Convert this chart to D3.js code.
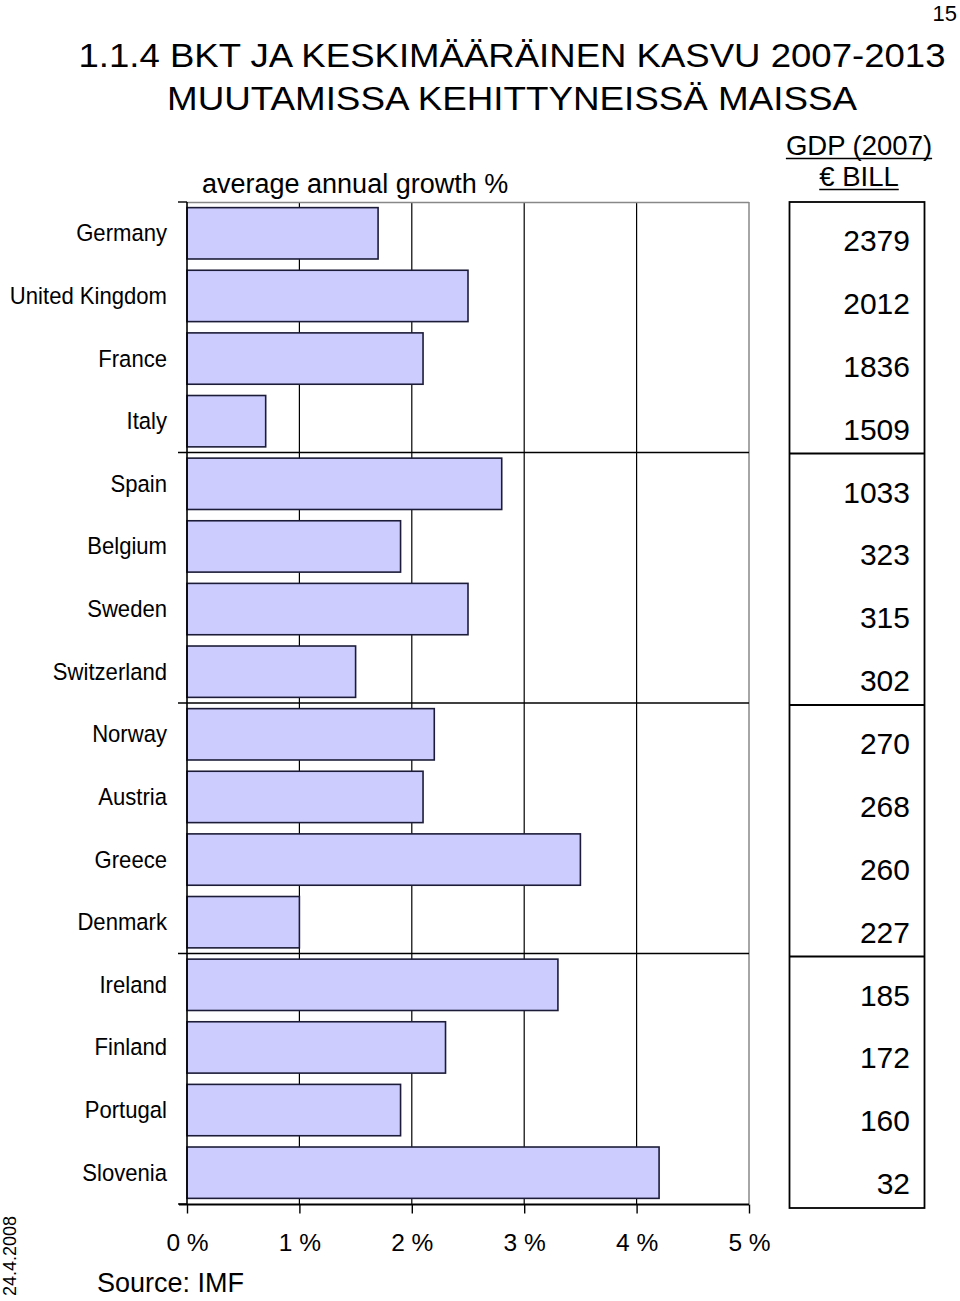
<!DOCTYPE html>
<html><head><meta charset="utf-8">
<script src="https://cdn.jsdelivr.net/npm/d3@7"></script>
<style>
body{margin:0;background:#fff}
svg{display:block}
text{font-family:"Liberation Sans",Arial,Helvetica,sans-serif;fill:#000}
</style>
</head><body><svg id="c" width="960" height="1301"></svg>
<script>
const countries = ["Germany","United Kingdom","France","Italy","Spain","Belgium","Sweden","Switzerland","Norway","Austria","Greece","Denmark","Ireland","Finland","Portugal","Slovenia"];
const growth = [1.7,2.5,2.1,0.7,2.8,1.9,2.5,1.5,2.2,2.1,3.5,1.0,3.3,2.3,1.9,4.2];
const gdp2007 = [2379,2012,1836,1509,1033,323,315,302,270,268,260,227,185,172,160,32];
const xTicks = [0,1,2,3,4,5];
const groupBounds = [0,4,8,12,16];
const titleLines = ["1.1.4 BKT JA KESKIMÄÄRÄINEN KASVU 2007-2013","MUUTAMISSA KEHITTYNEISSÄ MAISSA"];
const axisTitle = "average annual growth %";
const gdpHeader = ["GDP (2007)","€ BILL"];
const sourceText = "Source: IMF";
const dateText = "24.4.2008";
const pageNum = "15";

const svg = d3.select("#c");
const x = d3.scaleLinear().domain([0,5]).range([187,749]);
const y = d3.scaleBand().domain(countries).range([202,1204]).paddingInner(0.18).paddingOuter(0.09);
const yt = d3.scaleBand().domain(countries).range([202,1208]);
const step = y.step();
const bound = k => 202 + k*step;

// page number
svg.append("text").attr("x",957).attr("y",21).attr("text-anchor","end").attr("font-size",22).text(pageNum);

// title
const tl = [[867,67],[690,110]];
titleLines.forEach((t,i)=>{
  svg.append("text").attr("x",512).attr("y",tl[i][1]).attr("text-anchor","middle")
    .attr("font-size",34).attr("textLength",tl[i][0]).attr("lengthAdjust","spacingAndGlyphs").text(t);
});

// axis title
svg.append("text").attr("x",202).attr("y",193).attr("font-size",27).text(axisTitle);

// grid: vertical
svg.append("g").selectAll("line").data(xTicks.filter(d=>d>0&&d<5)).join("line")
  .attr("x1",d=>x(d)).attr("x2",d=>x(d)).attr("y1",202).attr("y2",1204)
  .attr("stroke","#000").attr("stroke-width",1.2);
// frame top/right (gray)
svg.append("line").attr("x1",x(0)).attr("x2",x(5)).attr("y1",202.5).attr("y2",202.5).attr("stroke","#888").attr("stroke-width",1.5);
svg.append("line").attr("x1",x(5)).attr("x2",x(5)).attr("y1",202).attr("y2",1204).attr("stroke","#888").attr("stroke-width",1.5);
// horizontal grid at group bounds with ticks
svg.append("g").selectAll("line").data(groupBounds.filter(k=>k>0&&k<16)).join("line")
  .attr("x1",178).attr("x2",x(5)).attr("y1",k=>bound(k)).attr("y2",k=>bound(k))
  .attr("stroke","#000").attr("stroke-width",1.4);

// bars
svg.append("g").selectAll("rect").data(countries).join("rect")
  .attr("x",x(0)).attr("y",d=>y(d))
  .attr("width",(d,i)=>x(growth[i])-x(0)).attr("height",y.bandwidth())
  .attr("fill","#ccccff").attr("stroke","#1c1c38").attr("stroke-width",1.6);

// left axis
svg.append("line").attr("x1",187).attr("x2",187).attr("y1",202).attr("y2",1205).attr("stroke","#000").attr("stroke-width",1.6);
svg.append("g").selectAll("line").data([0,16]).join("line")
  .attr("x1",178).attr("x2",187).attr("y1",k=>bound(k)).attr("y2",k=>bound(k)).attr("stroke","#000").attr("stroke-width",1.4);

// bottom axis
const xa = d3.axisBottom(x).tickValues(xTicks).tickFormat(d=>d+" %").tickSize(9).tickSizeOuter(0).tickPadding(20);
const gx = svg.append("g").attr("transform","translate(0,1204.5)").call(xa);
gx.select(".domain").remove();
gx.selectAll(".tick line").attr("stroke","#000").attr("stroke-width",1.4);
gx.selectAll(".tick text").attr("font-size",24.5).attr("font-family",'"Liberation Sans",Arial,sans-serif').attr("fill","#000");
svg.append("line").attr("x1",179).attr("x2",x(5)).attr("y1",1204.5).attr("y2",1204.5).attr("stroke","#000").attr("stroke-width",1.8);

// category labels
svg.append("g").selectAll("text").data(countries).join("text")
  .attr("transform",d=>`translate(167,${y(d)+y.bandwidth()/2+8}) scale(0.94,1)`)
  .attr("text-anchor","end").attr("font-size",23.5).text(d=>d);

// table header
gdpHeader.forEach((t,i)=>{
  const yy=[155,186][i];
  const tx = svg.append("text").attr("x",859).attr("y",yy).attr("text-anchor","middle").attr("font-size",27.5).text(t);
  const w = tx.node().getComputedTextLength();
  svg.append("line").attr("x1",859-w/2).attr("x2",859+w/2).attr("y1",yy+3.5).attr("y2",yy+3.5).attr("stroke","#000").attr("stroke-width",1.6);
});

// table
svg.append("rect").attr("x",789.5).attr("y",202).attr("width",135).attr("height",1006)
  .attr("fill","none").attr("stroke","#000").attr("stroke-width",1.8);
svg.append("g").selectAll("line").data(groupBounds.filter(k=>k>0&&k<16)).join("line")
  .attr("x1",789.5).attr("x2",924.5).attr("y1",k=>202+k*yt.step()).attr("y2",k=>202+k*yt.step())
  .attr("stroke","#000").attr("stroke-width",1.8);
svg.append("g").selectAll("text").data(countries).join("text")
  .attr("x",910).attr("y",d=>yt(d)+49).attr("text-anchor","end").attr("font-size",30)
  .text((d,i)=>gdp2007[i]);

// source
svg.append("text").attr("x",97).attr("y",1292).attr("font-size",27).text(sourceText);

// date rotated
svg.append("text").attr("transform","translate(16,1296) rotate(-90)")
  .attr("font-family","'DejaVu Sans',sans-serif").attr("font-size",18).text(dateText);
</script>
</body></html>
